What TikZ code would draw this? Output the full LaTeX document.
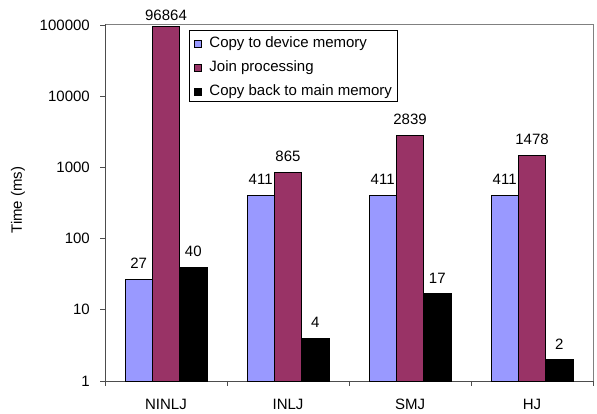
\documentclass[tikz,border=0pt]{standalone}
\usepackage{fontspec}
\setmainfont{Liberation Sans}
\usetikzlibrary{positioning}
\definecolor{copyblue}{HTML}{9999FF}
\definecolor{joinplum}{HTML}{993366}
\definecolor{axisgray}{HTML}{808080}

\tikzset{
  bar/.style={draw=black, line width=0.6pt},
  vallabel/.style={anchor=south, inner sep=0pt},
  legkey/.style={draw=black, line width=0.5pt, minimum size=7pt, inner sep=0pt},
  legtext/.style={inner sep=0pt, anchor=west},
}

\begin{document}
\begin{tikzpicture}[x=1pt, y=1pt, font=\fontsize{15}{18}\selectfont]
\useasboundingbox (0,0) rectangle (597,414);

% plot frame
\draw[axisgray, line width=0.8pt] (105,390) -- (593,390) -- (593,33);
\draw[axisgray!60!black, line width=0.9pt] (105,390) -- (105,33) -- (593,33);

% y axis, log scale (one decade = 71.2)
\foreach \k/\lab in {0/1,1/10,2/100,3/1000,4/10000,5/100000} {
  \draw[axisgray!60!black, line width=0.8pt] (100,33+71.2*\k) -- (105,33+71.2*\k);
  \node[anchor=east, inner sep=0pt] (yt\k) at (90,33+71.2*\k) {\lab};
}
\node[rotate=90] (ytitle) at (18,214) {Time (ms)};

% x axis ticks
\foreach \i in {0,...,4} {
  \draw[axisgray!60!black, line width=0.8pt] (105+122*\i,33) -- (105+122*\i,28);
}

% bars: copy in / join / copy back
\foreach \i/\name/\a/\b/\c in {0/NINLJ/27/96864/40, 1/INLJ/411/865/4,
                               2/SMJ/411/2839/17, 3/HJ/411/1478/2} {
  \pgfmathsetmacro{\xa}{105+122*\i+20}
  \foreach \v/\col [count=\j from 0] in {\a/copyblue,\b/joinplum,\c/black} {
    \pgfmathsetmacro{\xl}{\xa+27.33*\j}
    \edef\yt{\fpeval{33+71.2*ln(\v)/ln(10)}}
    \edef\yl{\fpeval{min(\yt+10,393.5)}}
    \draw[bar, fill=\col] (\xl,33) rectangle (\xl+27.33,\yt);
    \node[vallabel] (v\i\j) at (\xl+13.67,\yl) {\v};
  }
  \node (cat\i) at (105+122*\i+61,10) {\name};
}

% legend
\draw[line width=0.6pt, fill=white] (189,313) rectangle (397,384);
\node[legkey, fill=copyblue] (k0) at (197.5,370.5) {};
\node[legkey, fill=joinplum, below=16.5pt of k0] (k1) {};
\node[legkey, fill=black, below=16.5pt of k1] (k2) {};
\node[legtext, right=8pt of k0] (l0) {Copy to device memory};
\node[legtext, right=8pt of k1] (l1) {Join processing};
\node[legtext, right=8pt of k2] (l2) {Copy back to main memory};
\end{tikzpicture}
\end{document}
